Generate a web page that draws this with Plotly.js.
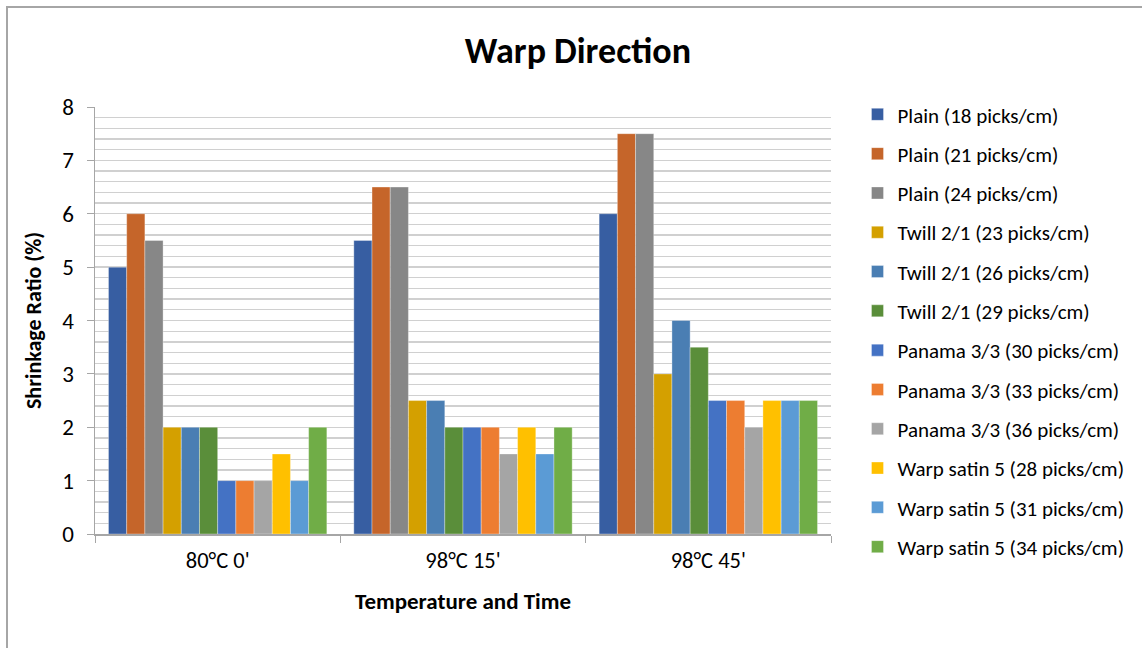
<!DOCTYPE html>
<html>
<head>
<meta charset="utf-8">
<script src="https://cdn.plot.ly/plotly-3.0.1.min.js"></script>
<style>
  html, body { margin: 0; padding: 0; background: #fff; }
  #wrap { position: relative; width: 1142px; height: 648px; overflow: hidden; }
  #chart { position: absolute; left: 0; top: 0; width: 1142px; height: 648px; }
  #frame { position: absolute; left: 6px; top: 6px; width: 1200px; height: 700px;
           border-left: 2px solid #a6a6a6; border-top: 2px solid #a6a6a6; pointer-events: none; }
</style>
</head>
<body>
<div id="wrap">
  <div id="chart"></div>
  <div id="frame"></div>
</div>
<script>
// Heat treatment conditions (x categories)
const conditions = ["80°C 0'", "98°C 15'", "98°C 45'"];

// Fabric / weft density series
const seriesNames = [
  "Plain (18 picks/cm)",
  "Plain (21 picks/cm)",
  "Plain (24 picks/cm)",
  "Twill 2/1 (23 picks/cm)",
  "Twill 2/1 (26 picks/cm)",
  "Twill 2/1 (29 picks/cm)",
  "Panama 3/3 (30 picks/cm)",
  "Panama 3/3 (33 picks/cm)",
  "Panama 3/3 (36 picks/cm)",
  "Warp satin 5 (28 picks/cm)",
  "Warp satin 5 (31 picks/cm)",
  "Warp satin 5 (34 picks/cm)"
];

// Shrinkage ratio (%) per series, one value per condition
const plain18   = [5.0, 5.5, 6.0];
const plain21   = [6.0, 6.5, 7.5];
const plain24   = [5.5, 6.5, 7.5];
const twill23   = [2.0, 2.5, 3.0];
const twill26   = [2.0, 2.5, 4.0];
const twill29   = [2.0, 2.0, 3.5];
const panama30  = [1.0, 2.0, 2.5];
const panama33  = [1.0, 2.0, 2.5];
const panama36  = [1.0, 1.5, 2.0];
const satin28   = [1.5, 2.0, 2.5];
const satin31   = [1.0, 1.5, 2.5];
const satin34   = [2.0, 2.0, 2.5];

const seriesValues = [plain18, plain21, plain24, twill23, twill26, twill29,
                      panama30, panama33, panama36, satin28, satin31, satin34];

const seriesColors = ["#375EA2", "#C5652A", "#878787", "#D4A000", "#4A7EB3", "#5A8E3A",
                      "#4472C4", "#ED7D31", "#A5A5A5", "#FFC000", "#5B9BD5", "#70AD47"];

const FONT = "Carlito, Calibri, Lato, 'Open Sans', sans-serif";

const traces = seriesNames.map((name, i) => ({
  type: "bar",
  name: name,
  x: conditions,
  y: seriesValues[i],
  legendgroup: "g" + i,
  marker: { color: seriesColors[i], line: { color: "rgba(255,255,255,0.55)", width: 0.6 } },
  hoverinfo: "x+y+name"
}));

const layout = {
  width: 1142,
  height: 648,
  paper_bgcolor: "#ffffff",
  plot_bgcolor: "#ffffff",
  margin: { l: 95, r: 309, t: 107, b: 114, pad: 0 },
  barmode: "group",
  bargap: 0.11,
  bargroupgap: 0,
  font: { family: FONT, color: "#000000", size: 20 },
  title: {
    text: "<b>Warp Direction</b>",
    font: { family: FONT, size: 36, color: "#000000" },
    x: 0.506, xanchor: "center", xref: "container",
    y: 0.922, yanchor: "middle", yref: "container"
  },
  xaxis: {
    type: "category",
    tickson: "boundaries",
    ticks: "outside",
    ticklen: 7,
    tickcolor: "#a6a6a6",
    tickwidth: 1,
    showline: true,
    linecolor: "#a6a6a6",
    linewidth: 1.5,
    showgrid: false,
    tickfont: { family: FONT, size: 22.5, color: "#000000" },
    ticklabelstandoff: 5,
    title: { text: "<b>Temperature and Time</b>", font: { family: FONT, size: 23, color: "#000000" }, standoff: 20 },
    fixedrange: true
  },
  yaxis: {
    range: [0, 8],
    dtick: 1,
    ticks: "outside",
    ticklen: 7,
    tickcolor: "#a6a6a6",
    tickwidth: 1,
    showline: true,
    linecolor: "#a6a6a6",
    linewidth: 1.5,
    showgrid: true,
    gridcolor: "#d0d0d0",
    gridwidth: 1.3,
    zeroline: false,
    minor: { dtick: 0.2, showgrid: true, gridcolor: "#d0d0d0", gridwidth: 1.3, ticks: "" },
    tickfont: { family: FONT, size: 23, color: "#000000" },
    ticklabelstandoff: 8,
    title: { text: "<b>Shrinkage Ratio (%)</b>", font: { family: FONT, size: 22, color: "#000000" }, standoff: 14 },
    fixedrange: true
  },
  legend: {
    x: 1.036, xanchor: "left",
    y: 1.03, yanchor: "top",
    traceorder: "grouped",
    tracegroupgap: 9,
    itemwidth: 30,
    maxheight: 640,
    font: { family: FONT, size: 21, color: "#000000" },
    bgcolor: "rgba(0,0,0,0)"
  },
  showlegend: true
};

Plotly.newPlot("chart", traces, layout, { displayModeBar: false, staticPlot: true });
</script>
</body>
</html>
